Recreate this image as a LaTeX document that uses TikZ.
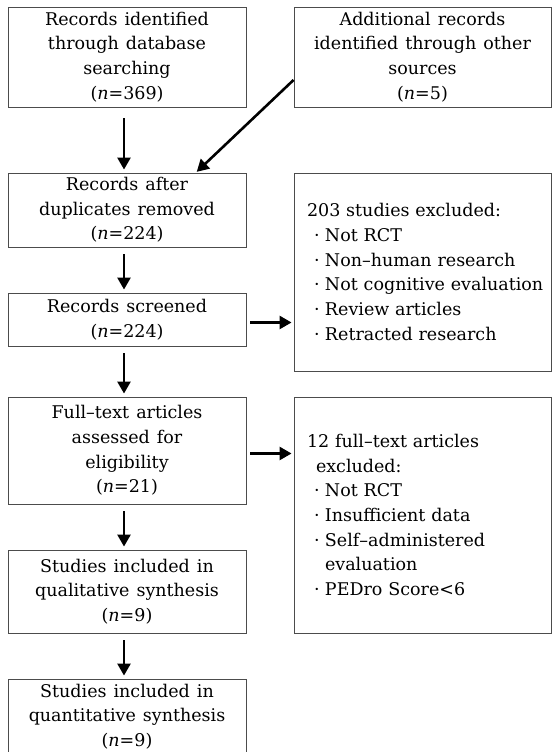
\documentclass[tikz,border=0pt]{standalone}
\usepackage{fontspec}
\setmainfont{DejaVu Serif}
\usetikzlibrary{arrows.meta}
\newcommand{\bul}{\hspace*{16.5pt}\makebox[11pt][l]{·}}
\newcommand{\boxfont}{\fontsize{17.5}{24.7}\selectfont\spaceskip=7pt plus 1pt minus 1pt\relax}
\begin{document}
\begin{tikzpicture}[x=1pt,y=1pt,
  box/.style={draw=black!70, line width=0.9pt, inner sep=0pt, font=\boxfont},
  flowbox/.style={box, align=center, minimum width=238pt},
  exclbox/.style={box, align=left, minimum width=257pt, text width=250pt},
  arr/.style={line width=2.6pt, -{Triangle[length=12pt,width=13pt]}, shorten <=7pt, shorten >=3pt},
  harr/.style={arr, shorten <=4pt, shorten >=2pt}]
\useasboundingbox (0,0) rectangle (552,752);
\clip (0,0) rectangle (552,752);
\node [flowbox, minimum height=100pt] (ident) at (127,695) {Records identified\\through database\\searching\\(\textit{n}=369)};
\node [box, align=center, minimum width=257pt, minimum height=100pt] (other) at (422.5,695) {Additional records\\identified through other\\sources\\(\textit{n}=5)};
\node [flowbox, minimum height=74pt] (dup) at (127,542) {Records after\\duplicates removed\\(\textit{n}=224)};
\node [flowbox, minimum height=53pt] (screen) at (127,432.5) {Records screened\\(\textit{n}=224)};
\node [flowbox, minimum height=107pt] (full) at (127,301.5) {Full--text articles\\assessed for\\eligibility\\(\textit{n}=21)};
\node [flowbox, minimum height=83pt] (qual) at (127,160.5) {Studies included in\\qualitative synthesis\\(\textit{n}=9)};
\node [flowbox, minimum height=75pt] (quant) at (127,35.5) {Studies included in\\quantitative synthesis\\(\textit{n}=9)};
\node [exclbox, minimum height=198pt] (exclA) at (422.5,480) {\hspace*{9.5pt}203 studies excluded:\\\bul Not RCT\\\bul Non--human research\\\bul Not cognitive evaluation\\\bul Review articles\\\bul Retracted research};
\node [exclbox, minimum height=236pt] (exclB) at (422.5,237) {\hspace*{9.5pt}12 full--text articles\\\hspace*{18.5pt}excluded:\\\bul Not RCT\\\bul Insufficient data\\\bul Self--administered\\\hspace*{27.5pt}evaluation\\\bul PEDro Score<6};
\draw [arr, shorten <=11pt] ([xshift=-3pt]ident.south) -- ([xshift=-3pt]dup.north);
\draw [arr, shorten <=0pt, shorten >=1pt] ([yshift=-23pt]other.west) -- ([xshift=69pt]dup.north);
\draw [arr] ([xshift=-3pt]dup.south) -- ([xshift=-3pt]screen.north);
\draw [arr] ([xshift=-3pt]screen.south) -- ([xshift=-3pt]full.north);
\draw [arr] ([xshift=-3pt]full.south) -- ([xshift=-3pt]qual.north);
\draw [arr] ([xshift=-3pt]qual.south) -- ([xshift=-3pt]quant.north);
\draw [harr] ([yshift=-3pt]screen.east) -- ([yshift=-3pt]screen.east -| exclA.west);
\draw [harr] ([yshift=-3pt]full.east) -- ([yshift=-3pt]full.east -| exclB.west);
\end{tikzpicture}
\end{document}
